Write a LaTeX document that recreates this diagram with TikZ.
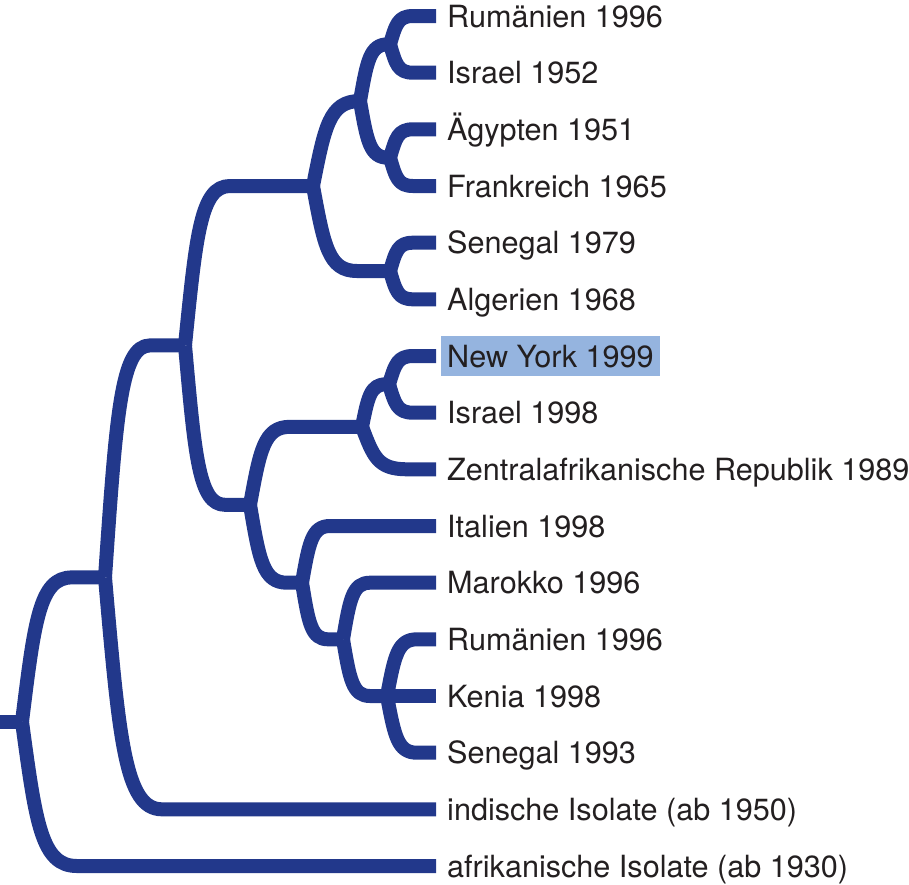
\documentclass[tikz,border=0pt]{standalone}
\usepackage{fontspec}
\setmainfont{TeX Gyre Heros}
\usetikzlibrary{calc}
\definecolor{treeblue}{RGB}{34,56,139}
\definecolor{hlblue}{RGB}{149,180,223}
\definecolor{txtcol}{RGB}{35,31,32}
\newcommand\br[3]{%
  \draw[tree] let \p1=(#1), \p2=(#2) in (\p1) .. controls ({\x1+0.25*#3pt},{\y1+0.7*(\y2-\y1)}) and ({\x1+0.35*#3pt},\y2) .. ({\x1+#3pt},\y2) -- (\p2);}
\newcommand\lf[3]{%
  \draw[tree] let \p1=(#1), \p2=($(#2.west)+(-5pt,0pt)$) in (\p1) .. controls ({\x1+0.25*#3pt},{\y1+0.7*(\y2-\y1)}) and ({\x1+0.35*#3pt},\y2) .. ({\x1+#3pt},\y2) -- (\p2);}
\begin{document}
\begin{tikzpicture}[x=1pt,y=-1pt,
  tree/.style={line width=14pt,draw=treeblue,line cap=butt,line join=round},
  leaf/.style={anchor=west,inner xsep=6pt,inner ysep=9pt,text height=22pt,text depth=0pt,text=txtcol,font=\fontsize{30.6}{36}\selectfont},
  hl/.style={fill=hlblue}]
\useasboundingbox (0,0) rectangle (909,884);
% leaves
\node[leaf] (n1) at (441,16) {Rumänien 1996};
\node[leaf] (n2) at (441,72.7) {Israel 1952};
\node[leaf] (n3) at (441,129.3) {Ägypten 1951};
\node[leaf] (n4) at (441,186) {Frankreich 1965};
\node[leaf] (n5) at (441,242.7) {Senegal 1979};
\node[leaf] (n6) at (441,299.3) {Algerien 1968};
\node[leaf,hl] (n7) at (441,356) {New York 1999};
\node[leaf] (n8) at (441,412.7) {Israel 1998};
\node[leaf] (n9) at (441,469.3) {Zentralafrikanische Republik 1989};
\node[leaf] (n10) at (441,526) {Italien 1998};
\node[leaf] (n11) at (441,582.7) {Marokko 1996};
\node[leaf] (n12) at (441,639.3) {Rumänien 1996};
\node[leaf] (n13) at (441,696) {Kenia 1998};
\node[leaf] (n14) at (441,752.7) {Senegal 1993};
\node[leaf] (n15) at (441,809.3) {indische Isolate (ab 1950)};
\node[leaf] (n16) at (441,866) {afrikanische Isolate (ab 1930)};
% internal nodes
\coordinate (start) at (0,721.7);
\coordinate (root) at (22,721.7);
\coordinate (A) at (105,577.4);
\coordinate (B) at (185,345.4);
\coordinate (C) at (313,186);
\coordinate (D) at (250,504.8);
\coordinate (E) at (360,101);
\coordinate (F) at (390,44.3);
\coordinate (G) at (390,157.7);
\coordinate (H) at (390,271);
\coordinate (I) at (362,426.8);
\coordinate (K) at (389,384.3);
\coordinate (J) at (302,582.7);
\coordinate (L) at (343,639.3);
\coordinate (M) at (387,696);
% tree
\draw[tree] (start) -- (root);
\br{root}{A}{50}
\lf{root}{n16}{55}
\br{A}{B}{45}
\lf{A}{n15}{57}
\br{B}{C}{45}
\br{B}{D}{40}
\br{C}{E}{47}
\br{C}{H}{44}
\br{E}{F}{28}
\br{E}{G}{28}
\lf{F}{n1}{23}
\lf{F}{n2}{23}
\lf{G}{n3}{23}
\lf{G}{n4}{23}
\lf{H}{n5}{23}
\lf{H}{n6}{23}
\br{D}{I}{40}
\br{D}{J}{37}
\br{I}{K}{24}
\lf{I}{n9}{45}
\lf{K}{n7}{24}
\lf{K}{n8}{24}
\lf{J}{n10}{28}
\br{J}{L}{26}
\lf{L}{n11}{27}
\br{L}{M}{27}
\lf{M}{n12}{30}
\draw[tree] (M) -- ($(n13.west)+(-5pt,0pt)$);
\lf{M}{n14}{30}
\end{tikzpicture}
\end{document}
